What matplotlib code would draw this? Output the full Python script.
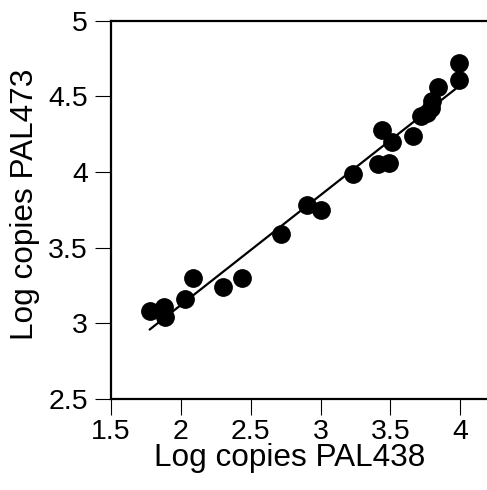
import matplotlib
matplotlib.use("Agg")
from matplotlib import pyplot as plt

# data
pal438 = [1.78, 1.88, 1.89, 2.03, 2.09, 2.30, 2.44, 2.72, 2.90, 3.00,
          3.23, 3.41, 3.49, 3.44, 3.51, 3.66, 3.72, 3.76, 3.79, 3.80,
          3.84, 3.99, 3.99]
pal473 = [3.08, 3.11, 3.04, 3.16, 3.30, 3.24, 3.30, 3.59, 3.78, 3.75,
          3.99, 4.05, 4.06, 4.28, 4.20, 4.24, 4.37, 4.39, 4.42, 4.47,
          4.56, 4.72, 4.61]
# regression line end points
fit_x = [1.78, 3.98]
fit_y = [2.96, 4.56]

xticks = [1.5, 2, 2.5, 3, 3.5, 4]
xticklabels = ["1.5", "2", "2.5", "3", "3.5", "4"]
yticks = [2.5, 3, 3.5, 4, 4.5, 5]
yticklabels = ["2.5", "3", "3.5", "4", "4.5", "5"]

plt.rcParams['font.family'] = ['Liberation Sans', 'DejaVu Sans']

fig = plt.figure(figsize=(4.87, 4.90), dpi=100)
ax = fig.add_axes([0.2273, 0.1857, 0.7727, 0.7721])

ax.plot(fit_x, fit_y, color='black', lw=1.6, zorder=2)
ax.plot(pal438, pal473, 'o', color='black', ms=12.5, zorder=3)

ax.set_xlim(1.5, 4.19)
ax.set_ylim(2.5, 5)
ax.set_xticks(xticks)
ax.set_xticklabels(xticklabels)
ax.set_yticks(yticks)
ax.set_yticklabels(yticklabels)

for s in ['left', 'bottom', 'top']:
    ax.spines[s].set_linewidth(1.6)
ax.spines['right'].set_visible(False)
ax.tick_params(direction='out', length=11.3, width=0.8, labelsize=20.5)
ax.tick_params(axis='x', pad=3)
ax.tick_params(axis='y', pad=5.2)

ax.text(0.476, -0.177, "Log copies PAL438", transform=ax.transAxes,
        ha='center', va='baseline', fontsize=22.7)
ax.text(-0.2065, 0.515, "Log copies PAL473", transform=ax.transAxes,
        ha='center', va='baseline', rotation=90, rotation_mode='anchor',
        fontsize=22.7)

fig.savefig("out.png", dpi=100)
